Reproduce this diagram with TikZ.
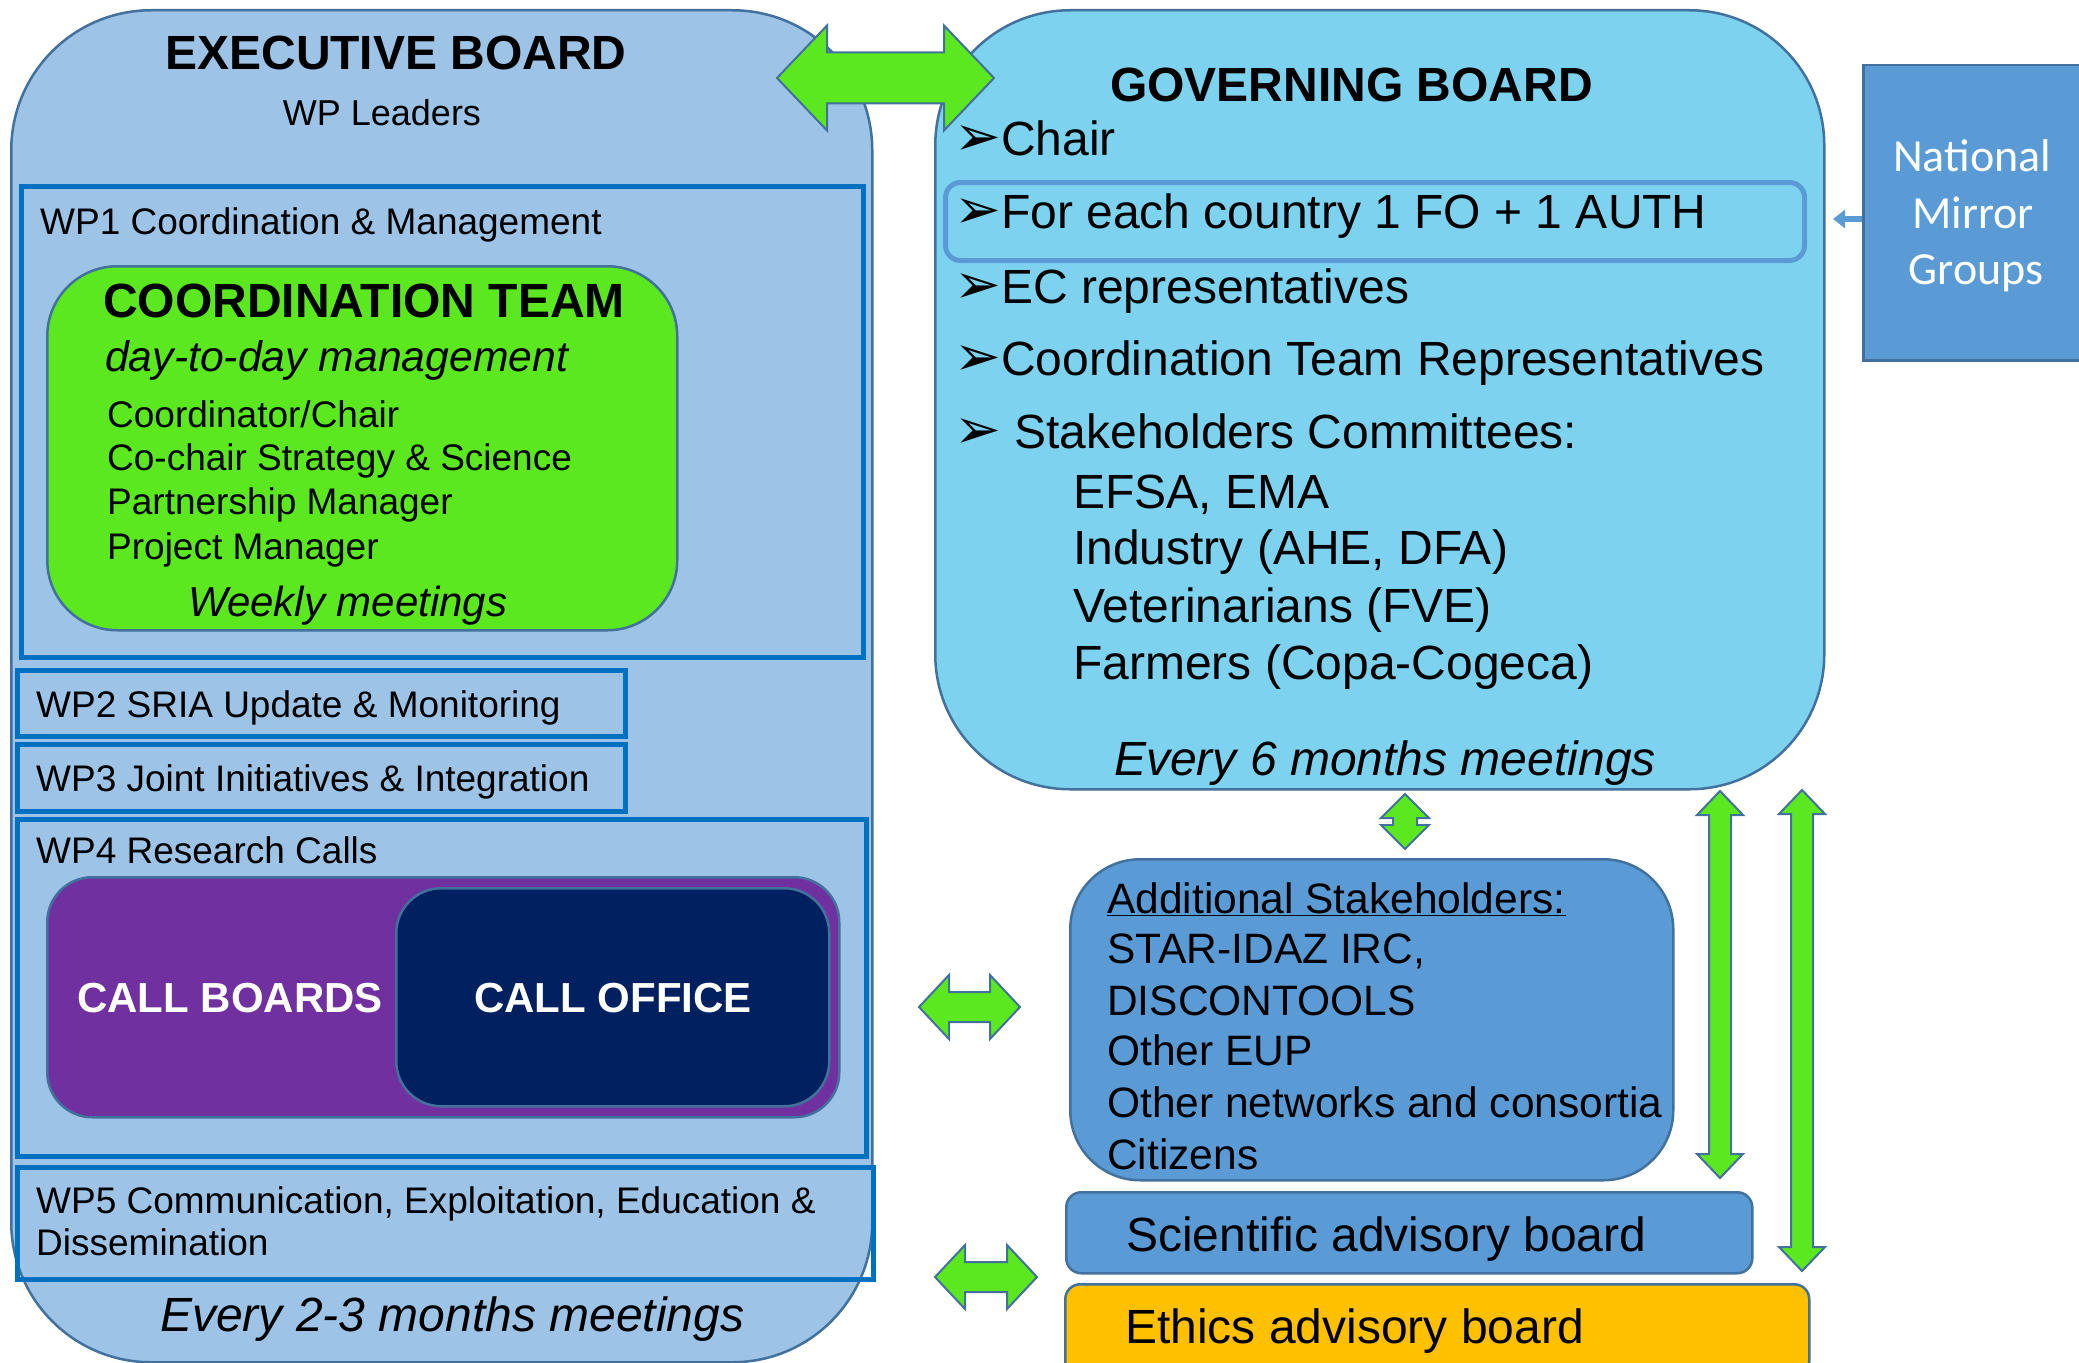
\documentclass[tikz,border=0pt]{standalone}
\usepackage{fontspec}
\setmainfont{Liberation Sans}
\newfontfamily\djv{DejaVu Sans}
\newfontfamily\carl{Carlito}
\usetikzlibrary{calc,arrows.meta}
\definecolor{execfill}{HTML}{9DC3E6}
\definecolor{govfill}{HTML}{7DD3EF}
\definecolor{edge}{HTML}{41719C}
\definecolor{wpblue}{HTML}{0070C0}
\definecolor{agreen}{HTML}{5CE81E}
\definecolor{midblue}{HTML}{5B9BD5}
\definecolor{purp}{HTML}{7030A0}
\definecolor{navy}{HTML}{002060}
\definecolor{gold}{HTML}{FFC000}
\newcommand\fsz[2]{\fontsize{#1}{#2}\selectfont}
\newcommand\bul{{\djv\fsz{56}{56}➢}}
% horizontal block double arrow between two named coordinates
\newcommand\hblock[5]{\path[blockarrow] let \p1=(#1), \p2=(#2) in
  (\x1,\y1) -- (\x1+#5,\y1+#4) -- (\x1+#5,\y1+#3) -- (\x2-#5,\y1+#3) -- (\x2-#5,\y1+#4)
  -- (\x2,\y1) -- (\x2-#5,\y1-#4) -- (\x2-#5,\y1-#3) -- (\x1+#5,\y1-#3) -- (\x1+#5,\y1-#4) -- cycle;}
% vertical block double arrow between two named coordinates (top, bottom)
\newcommand\vblock[5]{\path[blockarrow] let \p1=(#1), \p2=(#2) in
  (\x1,\y1) -- (\x1+#4,\y1-#5) -- (\x1+#3,\y1-#5) -- (\x1+#3,\y2+#5) -- (\x1+#4,\y2+#5)
  -- (\x1,\y2) -- (\x1-#4,\y2+#5) -- (\x1-#3,\y2+#5) -- (\x1-#3,\y1-#5) -- (\x1-#4,\y1-#5) -- cycle;}
\begin{document}
\begin{tikzpicture}[x=1pt,y=-1pt,
  board/.style={draw=edge, line width=2.5pt, anchor=north west, inner sep=0pt},
  wpbox/.style={draw=wpblue, line width=5pt, anchor=north west, inner sep=0pt},
  sz/.style 2 args={minimum width=#1pt, minimum height=#2pt},
  txt/.style={inner sep=0pt, anchor=base west},
  txtc/.style={inner sep=0pt, anchor=base},
  wptext/.style={txt, font=\fsz{37}{37}},
  govtext/.style={txt, font=\fsz{48}{48}},
  addtext/.style={txt, font=\fsz{42.5}{42.5}},
  blockarrow/.style={fill=agreen, draw=edge, line width=2pt, line join=miter},
]
\useasboundingbox (0,0) rectangle (2079,1362);
\fill[white] (0,0) rectangle (2079,1362);

% ---------------- Executive board ----------------
\node[board, fill=execfill, sz={861}{1352}, rounded corners=140pt] (exec) at (10,9) {};
\node[txtc, font=\bfseries\fsz{48}{48}] (ebtitle) at (396,70) {EXECUTIVE BOARD};
\node[txtc, font=\fsz{36}{36}] (wpl) at (382,126) {WP Leaders};

\node[wpbox, sz={842}{471}] (wp1) at (19,184) {};
\node[wptext] (wp1t) at (40,234) {WP1 Coordination \& Management};
\node[board, fill=agreen, sz={630}{364}, rounded corners=70pt] (ct) at (46,265) {};
\node[txt, font=\bfseries\fsz{48}{48}] (ctt) at (103,317) {COORDINATION TEAM};
\node[txt, font=\itshape\fsz{42.7}{42.7}] (ctd) at (105,371) {day-to-day management};
\node[wptext] (ct1) at (107,427) {Coordinator/Chair};
\node[wptext] (ct2) at (107,470) {Co-chair Strategy \& Science};
\node[wptext] (ct3) at (107,514) {Partnership Manager};
\node[wptext] (ct4) at (107,559) {Project Manager};
\node[txt, font=\itshape\fsz{42}{42}] (ctw) at (188,616) {Weekly meetings};

\node[wpbox, sz={608}{66}] (wp2) at (15,668) {};
\node[wptext] (wp2t) at (36,717) {WP2 SRIA Update \& Monitoring};
\node[wpbox, sz={608}{67}] (wp3) at (15,742) {};
\node[wptext] (wp3t) at (36,791) {WP3 Joint Initiatives \& Integration};

\node[wpbox, sz={849}{337}] (wp4) at (15,817) {};
\node[wptext] (wp4t) at (36,863) {WP4 Research Calls};
\node[board, fill=purp, sz={792}{240}, rounded corners=45pt] (cb) at (46,876) {};
\node[board, fill=navy, sz={433}{218}, rounded corners=45pt] (co) at (395,887) {};
\node[txt, font=\bfseries\fsz{42}{42}, text=white] (cbt) at (77,1012) {CALL BOARDS};
\node[txt, font=\bfseries\fsz{42}{42}, text=white] (cot) at (474,1012) {CALL OFFICE};

\node[wpbox, sz={856}{112}] (wp5) at (15,1165) {};
\node[wptext] (wp5a) at (36,1213) {WP5 Communication, Exploitation, Education \&};
\node[wptext] (wp5b) at (36,1255) {Dissemination};
\node[txt, font=\itshape\fsz{48}{48}] (ebm) at (160,1331) {Every 2-3 months meetings};

% ---------------- Governing board ----------------
\node[board, fill=govfill, sz={889}{779}, rounded corners=135pt] (gov) at (934,9) {};
\node[board, draw=midblue, line width=5pt, sz={859}{78}, rounded corners=15pt] (fo) at (943,180) {};
\node[txt, font=\bfseries\fsz{48}{48}] (govt) at (1110,102) {GOVERNING BOARD};
\node[govtext] (g1) at (954,155) {\bul{}Chair};
\node[govtext] (g2) at (954,228) {\bul{}For each country 1 FO + 1 AUTH};
\node[govtext] (g3) at (954,303) {\bul{}EC representatives};
\node[govtext] (g4) at (954,375) {\bul{}Coordination Team Representatives};
\node[govtext] (g5) at (954,448) {\bul{} Stakeholders Committees:};
\node[govtext] (g6) at (1073,508) {EFSA, EMA};
\node[govtext] (g7) at (1073,564) {Industry (AHE, DFA)};
\node[govtext] (g8) at (1073,622) {Veterinarians (FVE)};
\node[govtext] (g9) at (1073,679) {Farmers (Copa-Cogeca)};
\node[txt, font=\itshape\fsz{48}{48}] (gm) at (1114,775) {Every 6 months meetings};

% ---------------- National mirror groups ----------------
\node[board, fill=midblue, sz={225}{295}] (nmg) at (1862,64) {};
\node[txtc, font=\carl\fsz{46}{46}, text=white] (nmg1) at (1972,171) {National};
\node[txtc, font=\carl\fsz{46}{46}, text=white] (nmg2) at (1973,228) {Mirror};
\node[txtc, font=\carl\fsz{46}{46}, text=white] (nmg3) at (1976,284) {Groups};
\coordinate (foarr) at (1833,219);
\draw[midblue, line width=6pt, -{Triangle[length=12pt,width=18pt]}] (nmg.west |- foarr) -- (foarr);

% ---------------- Stakeholders and advisory boards ----------------
\node[board, fill=midblue, sz={603}{321}, rounded corners=70pt] (add) at (1069,858) {};
\node[addtext] (ad0) at (1107,913) {\underline{Additional Stakeholders:}};
\node[addtext] (ad1) at (1107,963) {STAR-IDAZ IRC,};
\node[addtext] (ad2) at (1107,1015) {DISCONTOOLS};
\node[addtext] (ad3) at (1107,1065) {Other EUP};
\node[addtext] (ad4) at (1107,1117) {Other networks and consortia};
\node[addtext] (ad5) at (1107,1169) {Citizens};

\node[board, fill=midblue, sz={686}{81}, rounded corners=15pt] (sab) at (1065,1191) {};
\node[govtext] (sabt) at (1126,1251) {Scientific advisory board};
\node[board, fill=gold, sz={744}{92}, rounded corners=15pt] (eab) at (1064,1283) {};
\node[govtext] (eabt) at (1125,1343) {Ethics advisory board};

% ---------------- Block arrows ----------------
\coordinate (a1l) at (777,78);   \coordinate (a1r) at (994,78);
\hblock{a1l}{a1r}{25.5pt}{52.5pt}{50pt}
\coordinate (a2l) at (919,1007); \coordinate (a2r) at (1020,1007);
\hblock{a2l}{a2r}{15pt}{32pt}{30pt}
\coordinate (a3l) at (935,1277); \coordinate (a3r) at (1037,1277);
\hblock{a3l}{a3r}{15pt}{32pt}{30pt}
\coordinate (a4t) at (1405,794); \coordinate (a4b) at (1405,849);
\vblock{a4t}{a4b}{12pt}{24pt}{24pt}
\coordinate (a5t) at (1720,791); \coordinate (a5b) at (1720,1178);
\vblock{a5t}{a5b}{11pt}{23pt}{24pt}
\coordinate (a6t) at (1802,790); \coordinate (a6b) at (1802,1271);
\vblock{a6t}{a6b}{11pt}{23pt}{24pt}
\end{tikzpicture}
\end{document}
